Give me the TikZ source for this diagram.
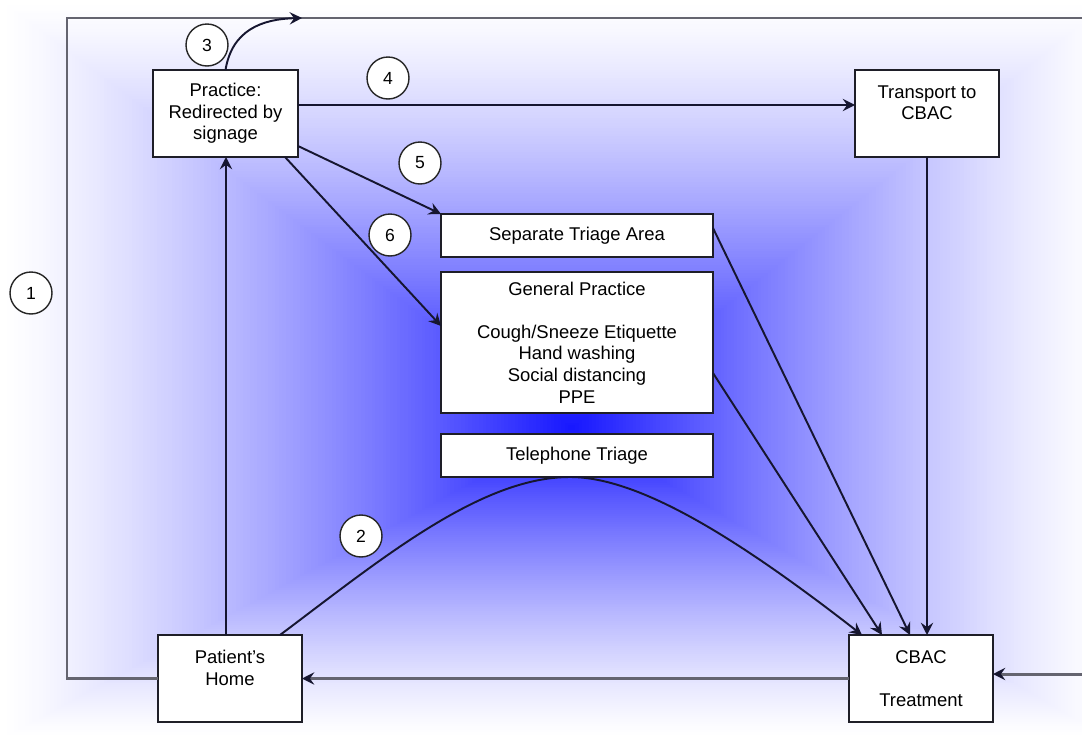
\documentclass[tikz,border=0pt]{standalone}
\usepackage{fontspec}
\setmainfont{Liberation Sans}
\usetikzlibrary{arrows.meta,calc}
\definecolor{gblue}{RGB}{22,22,255}
\definecolor{linec}{RGB}{22,22,48}
\definecolor{framec}{RGB}{100,100,112}
\definecolor{boxc}{RGB}{30,30,40}
\tikzset{
 box/.style={draw=boxc, line width=1.1pt, fill=white, inner sep=0pt, outer sep=0pt, align=center, font=\fontsize{10.5}{12.3}\selectfont},
 numc/.style={circle, draw=black!85, line width=0.8pt, fill=white, minimum size=0.84cm, inner sep=0pt, font=\fontsize{10}{12}\selectfont},
 tip/.style={-{Stealth[length=7pt,width=7pt,inset=2.5pt,color=linec]}},
 conn/.style={draw=linec, line width=1.1pt, tip},
 framel/.style={draw=framec, line width=1.7pt},
}
\begin{document}
\begin{tikzpicture}[x=0.02cm,y=-0.02cm]
\useasboundingbox (0,0) rectangle (1082,734);
\fill[white] (0,0) rectangle (1082,734);
\foreach \i in {0,...,159}{
  \pgfmathsetmacro\gt{\i/160}
  \pgfmathsetmacro\gp{100*(\gt^1.3)}
  \fill[gblue!\gp!white] ({572-(1-\gt)*572},{428-(1-\gt)*428}) rectangle ({572+(1-\gt)*540},{428+(1-\gt)*312});
}
% boxes
\node[box, minimum width=2.9cm, minimum height=1.74cm] (prac) at (225.5,113.5) {Practice:\\Redirected by\\signage};
\node[box, minimum width=2.88cm, minimum height=1.74cm] (trans) at (927,113.5) {Transport to\\CBAC\\\mbox{}};
\node[box, minimum width=2.88cm, minimum height=1.74cm] (home) at (230,678.5) {Patient's\\Home\\\mbox{}};
\node[box, minimum width=2.88cm, minimum height=1.74cm] (cbac) at (921,678.5) {CBAC\\\mbox{}\\Treatment};
\node[box, minimum width=5.44cm, minimum height=0.86cm] (st) at (577,235.5) {Separate Triage Area};
\node[box, minimum width=5.44cm, minimum height=2.82cm] (gp) at (577,342.5) {General Practice\\\mbox{}\\Cough/Sneeze Etiquette\\Hand washing\\Social distancing\\PPE};
\node[box, minimum width=5.44cm, minimum height=0.86cm] (tt) at (577,455.5) {Telephone Triage};
% number circles
\node[numc] (c1) at (31,293) {1};
\node[numc] (c2) at (361,536) {2};
\node[numc] (c3) at (207,45) {3};
\node[numc] (c4) at (388,78) {4};
\node[numc] (c5) at (420,163) {5};
\node[numc] (c6) at (390,235) {6};
% frame path
\coordinate (ftl) at (67,18);
\coordinate (ftr) at (1082,18);
\coordinate (t3) at (302,18);
\coordinate (rin) at (1082,674);
\draw[framel] (home.west) -| (ftl) -- (ftr);
\draw[framel, tip] (rin) -- (rin -| cbac.east);
\draw[framel, tip] (cbac.west) -- (home.east);
% connectors
\draw[conn] (prac.north) .. controls (232,30) and (262,19) .. (t3);
\draw[conn] ([xshift=0.01cm]home.north -| prac.south) -- ([xshift=0.01cm]prac.south);
\coordinate (p4) at ([yshift=0.17cm]prac.east);
\draw[conn] (p4) -- (p4 -| trans.west);
\draw[conn] ([yshift=-0.65cm]prac.east) -- (st.north west);
\draw[conn] ([xshift=1.19cm]prac.south) -- ([yshift=0.33cm]gp.west);
\draw[conn] (trans.south) -- (trans.south |- cbac.north);
\draw[conn] ([yshift=0.15cm]st.east) -- ([xshift=-0.22cm]cbac.north);
\draw[conn] ([yshift=-0.61cm]gp.east) -- ([xshift=-0.78cm]cbac.north);
\draw[conn] ([xshift=1cm]home.north) .. controls (380,560) and (480,477) .. ([xshift=-0.14cm]tt.south) .. controls (640,477) and (740,540) .. ([xshift=-1.18cm]cbac.north);
\end{tikzpicture}
\end{document}
